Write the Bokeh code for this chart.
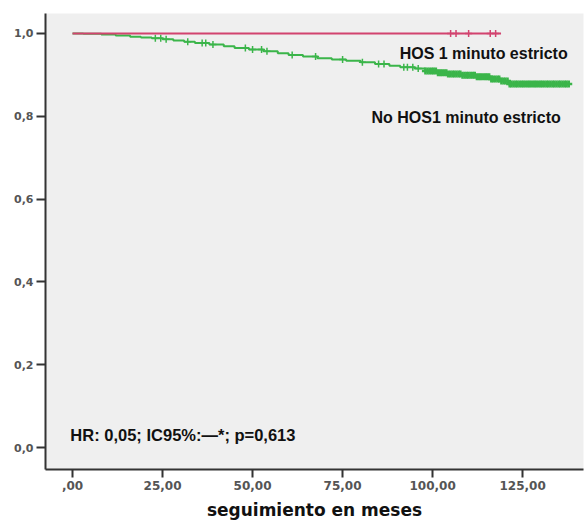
import numpy as np
from bokeh.plotting import figure
from bokeh.models import Range1d, FixedTicker
from bokeh.core.properties import value
from bokeh.embed import file_html
from bokeh.resources import INLINE

# ---- data ----
green_event_times = [3, 8, 12, 16, 19, 22, 25, 28, 31, 34, 38, 42, 45, 49, 53, 57,
                     60, 64, 68, 72, 76, 80, 84, 88, 91, 95, 98, 101, 104, 108, 112,
                     116, 119, 121]
green_surv = [0.999, 0.997, 0.995, 0.992, 0.990, 0.988, 0.986, 0.983, 0.980, 0.977,
              0.973, 0.969, 0.965, 0.961, 0.957, 0.952, 0.948, 0.944, 0.940, 0.937,
              0.934, 0.930, 0.926, 0.922, 0.918, 0.915, 0.909, 0.905, 0.902, 0.899,
              0.895, 0.890, 0.885, 0.878]
green_end = 138.0
green_censor = [23, 24.5, 26, 32, 36, 37, 39, 48, 50, 52.5, 54, 61, 67.5, 75, 80.5,
                85, 86.5, 92, 93, 94.5, 96]
green_censor_dense = [98, 98.6, 99.2, 99.8, 100.3, 100.9, 101.5, 102.1, 102.6, 103.2,
                      103.8, 104.3, 104.9, 105.5, 106, 106.6, 107.2, 107.7, 108.3, 108.9,
                      109.5, 110, 110.6, 111.2, 111.7, 112.3, 112.9, 113.4, 114, 114.6,
                      115.1, 115.7, 116.3, 116.8, 117.4, 118, 118.5, 119.1, 119.7, 120.2,
                      120.8, 121.4, 121.9, 122.5, 123.1, 123.6, 124.2, 124.8, 125.3, 125.9,
                      126.5, 127, 127.6, 128.2, 128.7, 129.3, 129.9, 130.4, 131, 131.6,
                      132.1, 132.7, 133.3, 133.8, 134.4, 135, 135.5, 136.1, 136.7, 137.2,
                      137.8]
red_end = 119.0
red_censor = [105, 106.5, 110, 116, 117.5]

x_ticks = [0, 25, 50, 75, 100, 125]
x_tick_labels = [",00", "25,00", "50,00", "75,00", "100,00", "125,00"]
y_ticks = [0.0, 0.2, 0.4, 0.6, 0.8, 1.0]
y_tick_labels = ["0,0", "0,2", "0,4", "0,6", "0,8", "1,0"]

label_hos = "HOS 1 minuto estricto"
label_nohos = "No HOS1 minuto estricto"
stats_text = "HR: 0,05; IC95%:\u2014*; p=0,613"
x_title = "seguimiento en meses"

RED = "#D2436F"
GREEN = "#3BB54A"

p = figure(width=585, height=522, x_range=Range1d(-7.5, 141.9), y_range=Range1d(-0.053, 1.048),
           output_backend="svg", toolbar_location=None,
           min_border_left=45, min_border_top=13, min_border_right=2, min_border_bottom=52)
p.background_fill_color = "#EFEFEF"
p.border_fill_color = "white"
p.outline_line_color = None
p.grid.visible = False

# green KM curve
gx = [0.0] + green_event_times + [green_end]
gy = [1.0] + green_surv + [green_surv[-1]]
p.step(gx, gy, mode="after", line_color=GREEN, line_width=2)

def surv_at(t):
    s = 1.0
    for et, sv in zip(green_event_times, green_surv):
        if et <= t:
            s = sv
    return s

p.scatter(green_censor, [surv_at(t) for t in green_censor], marker="cross", size=7,
          line_color=GREEN, line_width=1.5)
p.scatter(green_censor_dense, [surv_at(t) for t in green_censor_dense], marker="cross", size=7,
          line_color=GREEN, line_width=2.5)

# red curve
p.line([0.0, red_end], [1.0, 1.0], line_color=RED, line_width=2)
p.scatter(red_censor, [1.0] * len(red_censor), marker="cross", size=7,
          line_color=RED, line_width=1.5)

# labels
p.text(x=[137.5], y=[0.952], text=[label_hos], text_align="right", text_baseline="middle",
       text_font=value("Liberation Sans"), text_font_size="16px", text_font_style="bold",
       text_color="#111111")
p.text(x=[135.6], y=[0.798], text=[label_nohos], text_align="right", text_baseline="middle",
       text_font=value("Liberation Sans"), text_font_size="16px", text_font_style="bold",
       text_color="#111111")
p.text(x=[-0.6], y=[0.031], text=[stats_text], text_align="left", text_baseline="middle",
       text_font=value("Liberation Sans"), text_font_size="16.5px", text_font_style="bold",
       text_color="#111111")

# axes
p.xaxis.ticker = FixedTicker(ticks=x_ticks)
p.xaxis.major_label_overrides = {t: l for t, l in zip(x_ticks, x_tick_labels)}
p.yaxis.ticker = FixedTicker(ticks=y_ticks)
p.yaxis.major_label_overrides = {t: l for t, l in zip(y_ticks, y_tick_labels)}
for ax in (p.xaxis, p.yaxis):
    ax.axis_line_color = "#333333"
    ax.axis_line_width = 2
    ax.major_tick_line_color = "#333333"
    ax.major_tick_line_width = 2
    ax.minor_tick_line_color = None
    ax.major_tick_in = 0
    ax.major_label_text_font = "DejaVu Sans"
    ax.major_label_text_font_style = "bold"
    ax.major_label_text_color = "#555555"
    ax.major_label_standoff = 3
p.xaxis.major_tick_out = 8
p.yaxis.major_tick_out = 9
p.xaxis.major_label_text_font_size = "12px"
p.yaxis.major_label_text_font_size = "11px"
p.xaxis.axis_label = x_title
p.xaxis.axis_label_text_font = "DejaVu Sans"
p.xaxis.axis_label_text_font_style = "bold"
p.xaxis.axis_label_text_font_size = "17px"
p.xaxis.axis_label_text_color = "#111111"
p.xaxis.axis_label_standoff = 7

open("out.html", "w").write(file_html(p, INLINE))
